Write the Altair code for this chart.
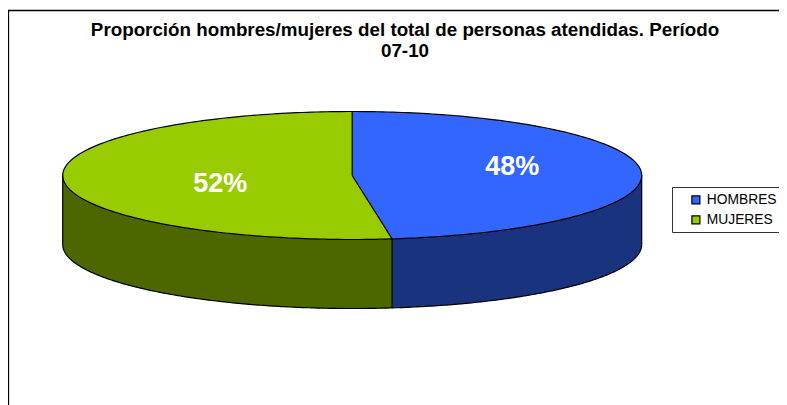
import numpy as np
import pandas as pd
import altair as alt

FONT = "Liberation Sans"
title_lines = ["Proporción hombres/mujeres del total de personas atendidas. Período", "07-10"]
categories = ["HOMBRES", "MUJERES"]
shares = [47.8, 52.2]
top_colors = ["#3366FF", "#99CC00"]
side_colors = ["#1A337F", "#4C6600"]
label_x = [0.5527, -0.456]      # label centres, in pie radii
label_y = [0.133, -0.133]

W, H = 771, 397
CX, RX, CY, RY, DEPTH = 344.2, 289.5, 167.5, 64.0, 69.0
x_dom = [-CX / RX, (W - CX) / RX]
y_dom = [-(H - CY) / RY, CY / RY]
D = DEPTH / RY
xs = alt.Scale(domain=x_dom, nice=False, zero=False)
ys = alt.Scale(domain=y_dom, nice=False, zero=False)

front = shares[0] / sum(shares) * 2 * np.pi
fx, fy = np.sin(front), np.cos(front)


def rad(x):
    return fy * x / fx


n = 90
t_right = np.linspace(0, np.pi / 2, n)
right = np.sin(t_right)
left = -right[::-1]
near = np.linspace(0, fx, 8)
far = right[right > fx]
rim = lambda x: np.sqrt(np.clip(1 - x * x, 0, 1))

rows = []
# blue top
for x in near:
    rows.append(("HOMBRES", x, rim(x), rad(x)))
for x in far:
    rows.append(("HOMBRES", x, rim(x), -rim(x)))
# green top
for x in left:
    rows.append(("MUJERES", x, rim(x), -rim(x)))
for x in near:
    rows.append(("MUJERES", x, rad(x), -rim(x)))
top = pd.DataFrame(rows, columns=["cat", "x", "y", "y2"])

front_left = np.concatenate([left, near[1:]])
front_right = np.concatenate([[fx], far])
side_g = pd.DataFrame({"x": front_left, "y": -rim(front_left), "y2": -rim(front_left) - D})
side_b = pd.DataFrame({"x": front_right, "y": -rim(front_right), "y2": -rim(front_right) - D})

paths = []


def add(name, px, py):
    for i, (a, b) in enumerate(zip(px, py)):
        paths.append((name, i, a, b))


th = np.linspace(0, 2 * np.pi, 360)
add("rim", np.sin(th), np.cos(th))
lo = np.sin(np.linspace(-np.pi / 2, np.pi / 2, 300))
add("base", lo, -rim(lo) - D)
add("e1", [-1, -1], [0, -D])
add("e2", [1, 1], [0, -D])
add("e3", [fx, fx], [-rim(fx), -rim(fx) - D])
add("r1", [0, 0], [1, 0])
add("r2", [0, fx], [0, -rim(fx)])
outline = pd.DataFrame(paths, columns=["p", "o", "x", "y"])

labels = pd.DataFrame({"x": label_x, "y": label_y, "t": [f"{round(s)}%" for s in shares]})
box = pd.DataFrame({"k": [0]})

color = alt.Color(
    "cat:N",
    scale=alt.Scale(domain=categories, range=top_colors),
    legend=alt.Legend(
        title=None, orient="none", legendX=681, legendY=185,
        symbolType="square", symbolSize=64, symbolStrokeColor="#000000", symbolStrokeWidth=1.2,
        labelFont=FONT, labelFontSize=13.8, labelColor="#000000", labelOffset=4,
        rowPadding=5, padding=0, symbolOpacity=1,
    ),
)

frame_l = alt.Chart(box).mark_rule(color="#000000", strokeWidth=1.3).encode(
    x=alt.value(0.5), y=alt.value(2), y2=alt.value(H))
frame_t = alt.Chart(box).mark_rule(color="#000000", strokeWidth=1.3).encode(
    y=alt.value(2.5), x=alt.value(0), x2=alt.value(W))
legend_box = alt.Chart(box).mark_rect(fill="#FFFFFF", stroke="#333333", strokeWidth=1).encode(
    x=alt.value(664.5), x2=alt.value(W + 10), y=alt.value(179.5), y2=alt.value(224.5))


def area(df, **kw):
    return alt.Chart(df).mark_area(orient="vertical", **kw)


enc = dict(
    x=alt.X("x:Q", scale=xs, axis=None),
    y=alt.Y("y:Q", scale=ys, axis=None, stack=None),
    y2="y2:Q",
)
sg = area(side_g, color=side_colors[1]).encode(**enc)
sb = area(side_b, color=side_colors[0]).encode(**enc)
tops = area(top).encode(color=color, **enc)
lines = alt.Chart(outline).mark_line(color="#000000", strokeWidth=1.2).encode(
    x=alt.X("x:Q", scale=xs, axis=None),
    y=alt.Y("y:Q", scale=ys, axis=None),
    detail="p:N", order="o:Q",
)
text = alt.Chart(labels).mark_text(font=FONT, fontSize=27, fontWeight="bold", color="#FFFFFF").encode(
    x=alt.X("x:Q", scale=xs, axis=None),
    y=alt.Y("y:Q", scale=ys, axis=None),
    text="t:N",
)

chart = alt.layer(frame_l, frame_t, legend_box, sg, sb, tops, lines, text).properties(
    width=W, height=H, padding=0, autosize=alt.AutoSizeParams(type="none"),
    title=alt.TitleParams(
        text=title_lines, font=FONT, fontSize=18.8, fontWeight="bold", color="#000000",
        anchor="middle", dx=11.5, dy=53, lineHeight=21, offset=0,
    ),
).configure_view(stroke=None)

chart.save("out.html", embed_options={"renderer": "svg", "actions": False})
